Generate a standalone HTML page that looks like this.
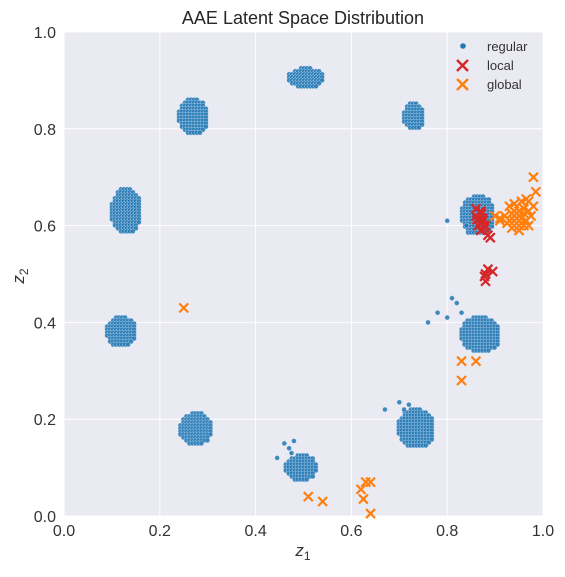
<!DOCTYPE html>
<html><head><meta charset="utf-8">
<style>
body{margin:0;background:#fff;}
svg text{font-family:"Liberation Sans","DejaVu Sans",sans-serif;}
</style></head>
<body>
<svg id="chart" width="565" height="572" viewBox="0 0 565 572" xmlns="http://www.w3.org/2000/svg">
<rect x="64" y="32" width="479" height="484" fill="#eaeaf2"/>
<g id="grid"></g>
<g id="marks"></g>
<g id="axes"></g>
<text x="303" y="24" text-anchor="middle" font-size="18" fill="#262626">AAE Latent Space Distribution</text>
<text x="303" y="556" text-anchor="middle" font-size="17" font-style="italic" fill="#333">z<tspan font-size="12" dy="4" font-style="normal">1</tspan></text>
<text transform="translate(24,276) rotate(-90)" text-anchor="middle" font-size="17" font-style="italic" fill="#333">z<tspan font-size="12" dy="4" font-style="normal">2</tspan></text>
<g>
  <circle cx="463" cy="46" r="2.8" fill="#1f77b4"/>
  <g stroke="#d62728" stroke-width="2.4"><line x1="457" y1="60" x2="468" y2="71"/><line x1="457" y1="71" x2="468" y2="60"/></g>
  <g stroke="#ff7f0e" stroke-width="2.4"><line x1="457" y1="79" x2="468" y2="90"/><line x1="457" y1="90" x2="468" y2="79"/></g>
  <text x="487" y="51" font-size="13" fill="#333">regular</text>
  <text x="487" y="70" font-size="13" fill="#333">local</text>
  <text x="487" y="89" font-size="13" fill="#333">global</text>
</g>
</svg>
<script>
const xTicks=[0,0.2,0.4,0.6,0.8,1.0];
const yTicks=[0,0.2,0.4,0.6,0.8,1.0];
// regular clusters: [cx, cy, halfWidth, halfHeight]
const clusterCx=[0.505,0.27,0.73,0.13,0.12,0.275,0.495,0.735,0.87,0.865];
const clusterCy=[0.905,0.825,0.825,0.63,0.38,0.18,0.10,0.18,0.375,0.62];
const clusterW=[0.035,0.03,0.02,0.03,0.03,0.032,0.032,0.036,0.04,0.034];
const clusterH=[0.02,0.035,0.027,0.045,0.03,0.032,0.025,0.04,0.035,0.04];
const outX=[0.445,0.46,0.47,0.48,0.475,0.70,0.71,0.72,0.67,0.81,0.82,0.83,0.80,0.78,0.76,0.84,0.80];
const outY=[0.12,0.15,0.14,0.155,0.13,0.235,0.22,0.23,0.22,0.45,0.44,0.42,0.41,0.42,0.40,0.60,0.61];
const localX=[0.86,0.87,0.875,0.88,0.865,0.87,0.885,0.89,0.86,0.875,0.88,0.895,0.88,0.885,0.878,0.868,0.872,0.862,0.878];
const localY=[0.62,0.63,0.61,0.60,0.60,0.59,0.58,0.575,0.635,0.615,0.50,0.505,0.485,0.51,0.495,0.605,0.625,0.612,0.595];
const globalX=[0.92,0.93,0.94,0.95,0.96,0.97,0.975,0.98,0.935,0.945,0.955,0.965,0.95,0.96,0.94,0.97,0.925,0.955,0.98,0.985,0.965,0.95,0.945,0.935,0.96,0.97,0.955,0.93,0.94,0.91,0.25,0.83,0.86,0.83,0.51,0.54,0.62,0.63,0.64,0.625,0.64,0.90,0.91];
const globalY=[0.62,0.64,0.61,0.63,0.60,0.65,0.62,0.64,0.595,0.625,0.65,0.61,0.59,0.635,0.645,0.60,0.605,0.615,0.70,0.67,0.655,0.60,0.615,0.625,0.625,0.63,0.605,0.61,0.63,0.615,0.43,0.32,0.32,0.28,0.04,0.03,0.055,0.07,0.07,0.035,0.005,0.62,0.61];
const NS="http://www.w3.org/2000/svg";
const x=v=>64+v*479, y=v=>516-v*484;
const grid=document.getElementById('grid'), axes=document.getElementById('axes'), marks=document.getElementById('marks');
function mk(tag,attrs,parent){const e=document.createElementNS(NS,tag);for(const k in attrs)e.setAttribute(k,attrs[k]);parent.appendChild(e);return e;}
xTicks.forEach(t=>{
  const l=mk('line',{x1:x(t),x2:x(t),y1:32,y2:516,stroke:'#fff','stroke-width':1},grid);
  
  
  const tx=mk('text',{x:x(t),y:536,'text-anchor':'middle','font-size':16,fill:'#333'},axes);
  tx.textContent=t.toFixed(1);
  
  
});
yTicks.forEach(t=>{
  const l=mk('line',{x1:64,x2:543,y1:y(t),y2:y(t),stroke:'#fff','stroke-width':1},grid);
  
  
  const tx=mk('text',{x:56,y:y(t)+6,'text-anchor':'end','font-size':16,fill:'#333'},axes);
  tx.textContent=t.toFixed(1);
  
  
});
function dot(px,py){
  const c=mk('circle',{cx:px,cy:py,r:2.4,fill:'#1f77b4',stroke:'#cfe0f0','stroke-width':0.4,'fill-opacity':0.85},marks);
  
  
}
for(let i=0;i<clusterCx.length;i++){
  const cx=x(clusterCx[i]), cy=y(clusterCy[i]), hw=clusterW[i]*479, hh=clusterH[i]*484;
  for(let dy=-hh;dy<=hh;dy+=3){for(let dx=-hw;dx<=hw;dx+=3){
    const e=(dx*dx)/(hw*hw)+(dy*dy)/(hh*hh);
    if(e<=1.15) dot(cx+dx,cy+dy);
  }}
}
for(let i=0;i<outX.length;i++) dot(x(outX[i]),y(outY[i]));
function cross(v,w,color,name){
  const px=x(v),py=y(w),s=4.5;
  const g=mk('g',{stroke:color,'stroke-width':2.2},marks);
  
  
  mk('line',{x1:px-s,y1:py-s,x2:px+s,y2:py+s},g);
  mk('line',{x1:px-s,y1:py+s,x2:px+s,y2:py-s},g);
}
for(let i=0;i<globalX.length;i++) cross(globalX[i],globalY[i],'#ff7f0e','global-point');
for(let i=0;i<localX.length;i++) cross(localX[i],localY[i],'#d62728','local-point');
</script>
</body></html>
